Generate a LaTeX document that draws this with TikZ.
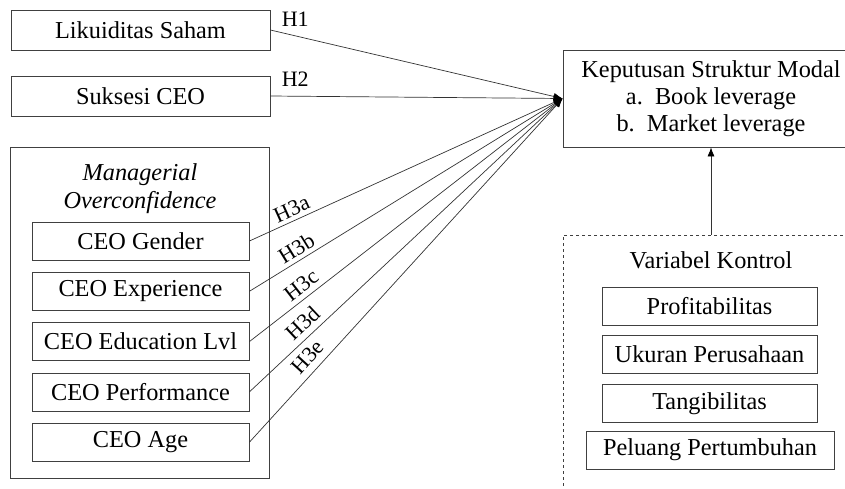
\documentclass[tikz,border=0pt]{standalone}
\usepackage{fontspec}
\setmainfont{Liberation Serif}
\usetikzlibrary{positioning}
\usetikzlibrary{arrows.meta}

\begin{document}
\begin{tikzpicture}[x=1pt,y=-1pt]
\tikzset{var/.style={rectangle,minimum width=259pt,minimum height=40pt, inner sep=0pt, draw=black!75, line width=0.8pt, font=\fontsize{24.3}{27}\selectfont}}
\tikzset{sub/.style={var,minimum width=217pt,minimum height=38pt}}
\tikzset{ctrl/.style={var,minimum width=215pt,minimum height=38pt}}
\tikzset{hyp/.style={draw=black!80, line width=0.7pt, -{Latex[length=9pt,width=7pt,color=black]}}}
\tikzset{hlabel/.style={font=\fontsize{22}{24}\selectfont, inner sep=1pt, text=black}}
\useasboundingbox (0,0) rectangle (845,488);
\clip (0,0) rectangle (845,488);

% left side
\node[var] (likuiditas) at (140.5,30) {Likuiditas Saham};
\node[var] (suksesi) at (140.5,96) {Suksesi CEO};
\node[var, minimum height=331pt] (mo) at (139.5,312.5) {};
\node[font=\fontsize{24.3}{28}\selectfont\itshape, align=center] (motitle) at (140,189) {Managerial\\Overconfidence};
\node[sub] (gender) at (140.5,241) {CEO Gender};
\node[sub, below=11.5pt of gender] (experience) {CEO Experience};
\node[sub, below=11.5pt of experience] (education) {CEO Education Lvl};
\node[sub, below=11.5pt of education] (performance) {CEO Performance};
\node[sub, below=11.5pt of performance] (age) {CEO Age};

% right side
\node[var, minimum width=296pt, minimum height=97pt, align=center] (keputusan) at (711,98.5) {Keputusan Struktur Modal\\a.~~Book leverage\\b.~~Market leverage};
\node[var, dashed, minimum width=296pt, minimum height=264pt] (kontrol) at (711,367) {};
\node[font=\fontsize{24.3}{27}\selectfont] (kontroltitle) at (711,260) {Variabel Kontrol};
\node[ctrl] (profit) at (709.5,306) {Profitabilitas};
\node[ctrl] (ukuran) at (709.5,354) {Ukuran Perusahaan};
\node[ctrl] (tangib) at (709.5,403.5) {Tangibilitas};
\node[ctrl, minimum width=248pt] (peluang) at (710,450) {Peluang Pertumbuhan};

% hypotheses
\draw[hyp] (likuiditas.east) -- (keputusan.west) node[hlabel, pos=0, anchor=south west, xshift=10pt, yshift=2pt] {H1};
\draw[hyp] (suksesi.east) -- (keputusan.west) node[hlabel, pos=0, anchor=south west, xshift=10pt, yshift=8pt] {H2};
\draw[hyp] (gender.east) -- node[hlabel, sloped, above=3pt, pos=0.15] {H3a} (keputusan.west);
\draw[hyp] (experience.east) -- node[hlabel, sloped, above=3pt, pos=0.17] {H3b} (keputusan.west);
\draw[hyp] (education.east) -- node[hlabel, sloped, above=4pt, pos=0.19] {H3c} (keputusan.west);
\draw[hyp] (performance.east) -- node[hlabel, sloped, above=5pt, pos=0.2] {H3d} (keputusan.west);
\draw[hyp] (age.east) -- node[hlabel, sloped, above=6pt, pos=0.22] {H3e} (keputusan.west);
\draw[hyp] (kontrol.north) -- (keputusan.south);
\end{tikzpicture}
\end{document}
